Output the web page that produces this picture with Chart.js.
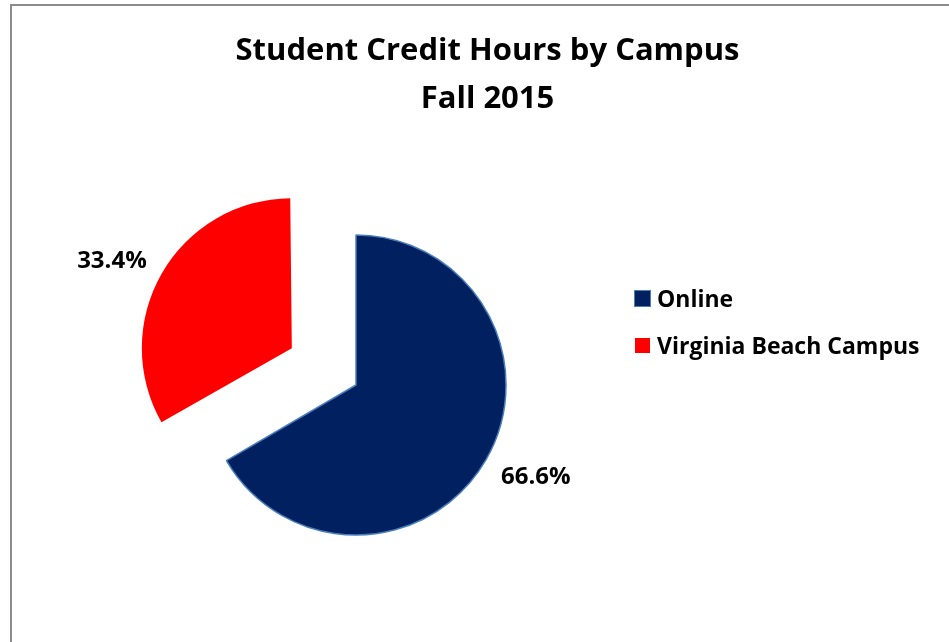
<!DOCTYPE html>
<html>
<head>
<meta charset="utf-8">
<script src="https://cdn.jsdelivr.net/npm/chart.js@4"></script>
<style>
  body { margin: 0; background: #fff; font-family: "Open Sans", sans-serif; }
  #frame { position: absolute; left: 10px; top: 4px; width: 960px; height: 660px; border-left: 2px solid #8c8c8c; border-top: 2px solid #8c8c8c; }
  #title { position: absolute; left: 0; top: 24px; width: 975px; text-align: center; font-weight: bold; font-size: 31px; line-height: 48px; color: #000; z-index: 2; }
  #wrap { position: absolute; left: 56px; top: 85px; width: 600px; height: 600px; }
  #legend { position: absolute; left: 634px; top: 286px; font-weight: bold; font-size: 23px; color: #000; }
  #legend div { display: flex; align-items: center; height: 24px; margin-bottom: 23px; white-space: nowrap; }
  #legend span.box { display: inline-block; box-sizing: border-box; }
</style>
</head>
<body>
<div id="frame"></div>
<div id="title">Student Credit Hours by Campus<br>Fall 2015</div>
<div id="wrap"><canvas id="pie" width="600" height="600"></canvas></div>
<div id="legend"></div>
<script>
const campuses = ["Online", "Virginia Beach Campus"];
const sharePct = [66.6, 33.4];
const sliceColors = ["#002060", "#ff0000"];
const edgeColors = ["#4a7ebb", "#ff0000"];

const R = 150;           // pie radius in px
const explode = [0, 74]; // how far each slice is pulled out, px

// Chart.js moves an arc by offset/4 and grows its radius by offset/4 * (1 - sin(circumference))
const total = sharePct.reduce((a, b) => a + b, 0);
const offsets = explode.map(d => d * 4);
const radiusFix = sharePct.map((v, i) => {
  const circ = 2 * Math.PI * v / total;
  return explode[i] * (1 - Math.sin(Math.min(Math.PI, circ)));
});

// legend
const legend = document.getElementById("legend");
campuses.forEach((name, i) => {
  const row = document.createElement("div");
  const box = i === 0
    ? `width:17px;height:17px;border:1.5px solid ${edgeColors[0]};margin-right:6px;`
    : `width:15px;height:15px;margin-left:1px;margin-right:7px;`;
  row.innerHTML = `<span class="box" style="background:${sliceColors[i]};${box}"></span>${name}`;
  legend.appendChild(row);
});

const keepRadius = {
  id: "keepRadius",
  afterDatasetUpdate(chart) {
    chart.getDatasetMeta(0).data.forEach((arc, i) => {
      arc.outerRadius = R - radiusFix[i];
    });
  }
};

const labelPlugin = {
  id: "pctLabels",
  afterDatasetsDraw(chart) {
    const ctx = chart.ctx;
    const meta = chart.getDatasetMeta(0);
    ctx.save();
    ctx.font = "bold 24px 'Open Sans', sans-serif";
    ctx.fillStyle = "#000";
    ctx.textAlign = "center";
    ctx.textBaseline = "alphabetic";
    meta.data.forEach((arc, i) => {
      const mid = (arc.startAngle + arc.endAngle) / 2;
      const cx = arc.x + Math.cos(mid) * explode[i];
      const cy = arc.y + Math.sin(mid) * explode[i];
      const ex = cx + Math.cos(mid) * R;
      const ey = cy + Math.sin(mid) * R;
      const txt = sharePct[i].toFixed(1) + "%";
      const w = ctx.measureText(txt).width;
      const lx = ex + Math.sign(Math.cos(mid)) * (w / 2 + 15);
      const ly = ey + Math.sin(mid) * 29 + 9.5;
      ctx.fillText(txt, lx, ly);
    });
    ctx.restore();
  }
};

new Chart(document.getElementById("pie"), {
  type: "pie",
  data: {
    labels: campuses,
    datasets: [{
      data: sharePct,
      backgroundColor: sliceColors,
      borderColor: edgeColors,
      borderWidth: [1.5, 0],
      offset: offsets
    }]
  },
  options: {
    responsive: false,
    animation: false,
    radius: R,
    layout: { padding: 0 },
    plugins: { legend: { display: false }, tooltip: { enabled: false }, title: { display: false } }
  },
  plugins: [keepRadius, labelPlugin]
});
</script>
</body>
</html>
